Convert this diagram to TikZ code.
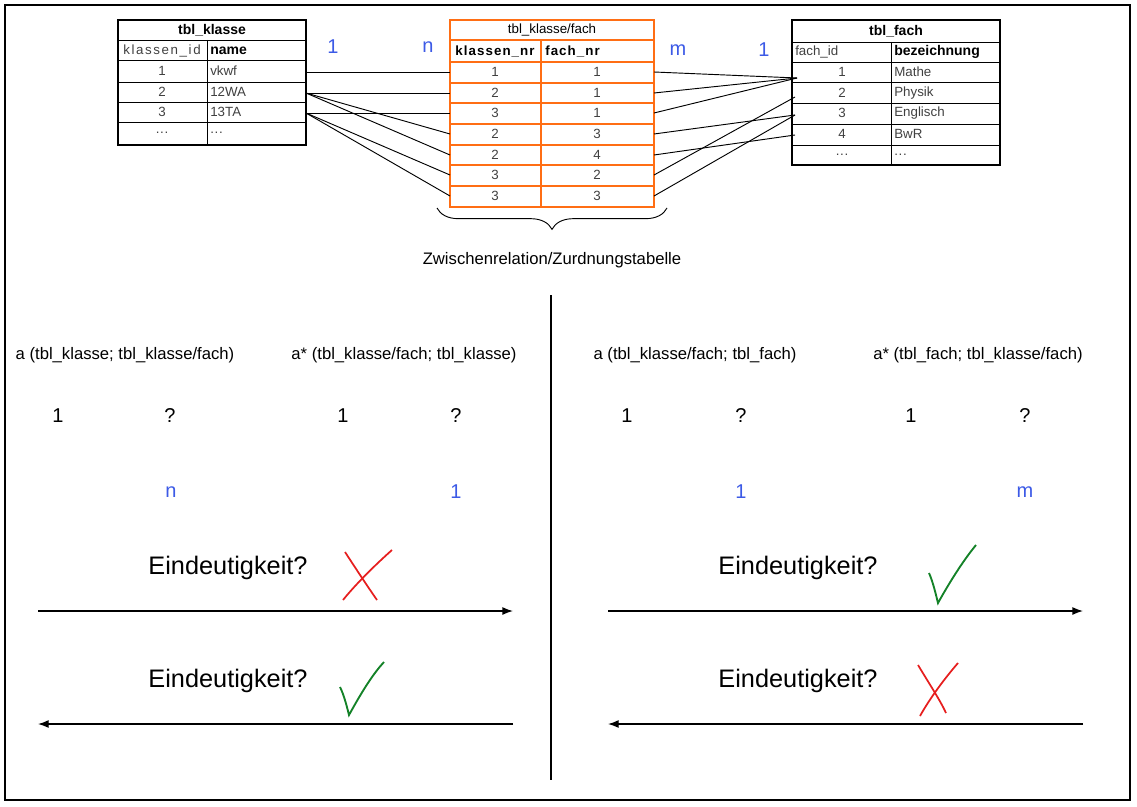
\documentclass[tikz,border=0pt]{standalone}
\usepackage{fontspec}
\setmainfont{Liberation Sans}
\usetikzlibrary{decorations.pathreplacing,arrows.meta}
\definecolor{org}{RGB}{255,110,20}
\definecolor{blu}{RGB}{60,90,230}
\definecolor{gr}{RGB}{20,130,40}
\definecolor{rd}{RGB}{230,30,30}
\newcommand\mydots{.\kern0.5pt.\kern0.5pt.}
\begin{document}
\begin{tikzpicture}[x=0.75pt,y=-0.75pt,
 cell/.style={font=\fontsize{10}{11}\selectfont,text=black!75,inner sep=0pt},
 hd/.style={font=\fontsize{10.5}{11}\selectfont\bfseries,inner sep=0pt},
 sp/.style={font=\fontsize{10}{11}\selectfont\addfontfeature{LetterSpace=12}},
 card/.style={font=\fontsize{15}{15}\selectfont,text=blu,inner sep=0pt},
 sm/.style={font=\fontsize{12.5}{13}\selectfont,inner sep=0pt},
 big/.style={font=\fontsize{15}{16}\selectfont,inner sep=0pt},
 eind/.style={font=\fontsize{19}{20}\selectfont,inner sep=0pt},
 ln/.style={line width=0.7pt},
 arr/.style={-{Latex[length=8pt,width=6pt]},line width=1pt}]
\useasboundingbox (0,0) rectangle (1137,806);
\draw[line width=1.2pt] (5,5) rectangle (1130,800);
% tbl_klasse
\draw[line width=1.3pt] (118,20) rectangle (306,145);
\foreach \y in {40,60,82,102,122} \draw (118,\y)--(306,\y);
\draw (207,40)--(207,145);
\node[hd] (kt) at (212,30) {tbl\_klasse};
\node[cell,sp] (kh1) at (162,51) {klassen\_id};
\node[hd,anchor=west] (kh2) at (210,51) {name};
\foreach \i/\a/\b/\y in {1/1/vkwf/71,2/2/12WA/92,3/3/13TA/112,4/\mydots/\mydots/133}{
 \node[cell] (ka\i) at (162,\y) {\a};
 \node[cell,anchor=west] (kb\i) at (210,\y) {\b};}
\coordinate (k1) at (306,72);\coordinate (k2) at (306,93);\coordinate (k3) at (306,113);
% middle
\begin{scope}[draw=org,line width=1.6pt]
\draw (450,20) rectangle (654,207);
\foreach \y in {40,62,83,103,124,145,165,186} \draw (450,\y)--(654,\y);
\draw (541,40)--(541,207);
\end{scope}
\node[cell,text=black] (mt) at (552,30) {tbl\_klasse/fach};
\node[hd,font=\fontsize{10}{11}\selectfont\bfseries\addfontfeature{LetterSpace=8}] (mh1) at (495,51) {klassen\_nr};
\node[hd,anchor=west,font=\fontsize{10}{11}\selectfont\bfseries\addfontfeature{LetterSpace=8}] (mh2) at (545,51) {fach\_nr};
\foreach \i/\a/\b/\y in {1/1/1/72,2/2/1/93,3/3/1/113,4/2/3/134,5/2/4/155,6/3/2/175,7/3/3/196}{
 \node[cell] (ma\i) at (495,\y) {\a};
 \node[cell] (mb\i) at (597,\y) {\b};
 \coordinate (L\i) at (450,\y); \coordinate (R\i) at (654,\y);}
% tbl_fach
\draw[line width=1.3pt] (792,20) rectangle (1000,165);
\foreach \y in {42,62,82,103,124,145} \draw (792,\y)--(1000,\y);
\draw (891,42)--(891,165);
\node[hd] (ft) at (896,31) {tbl\_fach};
\node[cell,anchor=west] (fh1) at (795,52) {fach\_id};
\node[hd,anchor=west] (fh2) at (894,52) {bezeichnung};
\foreach \i/\a/\b/\y in {1/1/Mathe/72,2/2/Physik/93,3/3/Englisch/113,4/4/BwR/134,5/\mydots/\mydots/155}{
 \node[cell] (fa\i) at (842,\y) {\a};
 \node[cell,anchor=west] (fb\i) at (894,\y) {\b};}
\coordinate (f1) at (797,78);\coordinate (f2) at (795,97);\coordinate (f3) at (795,115);\coordinate (f4) at (795,135);
% connectors
\foreach \a/\b in {k1/L1,k2/L2,k2/L4,k2/L5,k3/L3,k3/L6,k3/L7,R1/f1,R2/f1,R3/f1,R4/f3,R5/f4,R6/f2,R7/f3}
 \draw[ln] (\a)--(\b);
\node[card] (c1) at (333,47) {1};
\node[card] (c2) at (428,47) {n};
\node[card] (c3) at (678,50) {m};
\node[card] (c4) at (764,50) {1};
\draw[decorate,decoration={brace,mirror,amplitude=16pt},line width=0.7pt] (437,208)--(667,208);
\node[sm] (zw) at (552,260) {Zwischenrelation/Zurdnungstabelle};
\draw[line width=0.8pt] (551,295)--(551,780);
% bottom
\node[sm] (t1) at (125,355) {a (tbl\_klasse; tbl\_klasse/fach)};
\node[sm] (t2) at (404,355) {a* (tbl\_klasse/fach; tbl\_klasse)};
\node[sm] (t3) at (695,355) {a (tbl\_klasse/fach; tbl\_fach)};
\node[sm] (t4) at (978,355) {a* (tbl\_fach; tbl\_klasse/fach)};
\foreach \n/\x/\t in {b1/58/1,b2/170/?,b3/343/1,b4/456/?,b5/627/1,b6/741/?,b7/911/1,b8/1025/?}
 \node[big] (\n) at (\x,416) {\t};
\foreach \n/\x/\t in {u1/171/n,u2/456/1,u3/741/1,u4/1025/m}
 \node[big,text=blu] (\n) at (\x,492) {\t};
\node[eind] (e1) at (228,568) {Eindeutigkeit?};
\node[eind] (e2) at (228,681) {Eindeutigkeit?};
\node[eind] (e3) at (798,568) {Eindeutigkeit?};
\node[eind] (e4) at (798,681) {Eindeutigkeit?};
\coordinate (a1) at (38,611);\coordinate (a2) at (513,611);
\coordinate (a3) at (513,724);\coordinate (a4) at (38,724);
\coordinate (a5) at (608,611);\coordinate (a6) at (1083,611);
\coordinate (a7) at (1083,724);\coordinate (a8) at (608,724);
\draw[arr] (a1)--(a2); \draw[arr] (a3)--(a4);
\draw[arr] (a5)--(a6); \draw[arr] (a7)--(a8);
% crosses
\draw[rd,line width=1.3pt] (345,552) .. controls (360,575) and (370,590) .. (377,600);
\draw[rd,line width=1.3pt] (392,550) .. controls (375,565) and (355,585) .. (343,600);
\draw[rd,line width=1.3pt] (918,665) .. controls (930,685) and (940,700) .. (946,713);
\draw[rd,line width=1.3pt] (958,663) .. controls (945,678) and (930,698) .. (920,716);
% checks
\draw[gr,line width=1.4pt] (929,573) .. controls (933,582) and (936,595) .. (938,603) .. controls (948,585) and (962,562) .. (976,545);
\draw[gr,line width=1.4pt] (340,687) .. controls (344,695) and (347,707) .. (349,715) .. controls (359,697) and (371,676) .. (384,662);
\end{tikzpicture}
\end{document}
